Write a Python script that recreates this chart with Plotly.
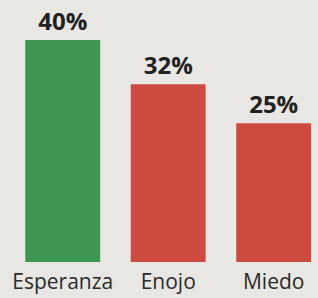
import plotly.graph_objects as go

categories = ["Esperanza", "Enojo", "Miedo"]
values = [40, 32, 25]
labels = ["40%", "32%", "25%"]
colors = ["#3d9651", "#cc4a3f", "#cc4a3f"]

BG = "#e9e7e3"

fig = go.Figure(go.Bar(
    x=categories, y=values, text=labels, textposition="outside",
    textfont=dict(family="Open Sans", size=24, color="#222222", weight="bold"),
    marker=dict(color=colors, line=dict(width=0)),
    width=0.71, cliponaxis=False, hoverinfo="skip",
))
fig.update_layout(
    width=318, height=298,
    margin=dict(l=10, r=0, t=0, b=36),
    paper_bgcolor=BG, plot_bgcolor=BG,
    showlegend=False,
    xaxis=dict(range=[-0.5, 2.42], showgrid=False, zeroline=False, showline=False,
               ticks="", ticklabelstandoff=5,
               tickfont=dict(family="Open Sans", size=21, color="#2a2a2a")),
    yaxis=dict(range=[0, 47.2], visible=False),
)
fig.write_html("out.html", config={"displayModeBar": False}, post_script=(
    "document.body.style.margin='0';"
    "document.body.style.background='" + BG + "';"
))
